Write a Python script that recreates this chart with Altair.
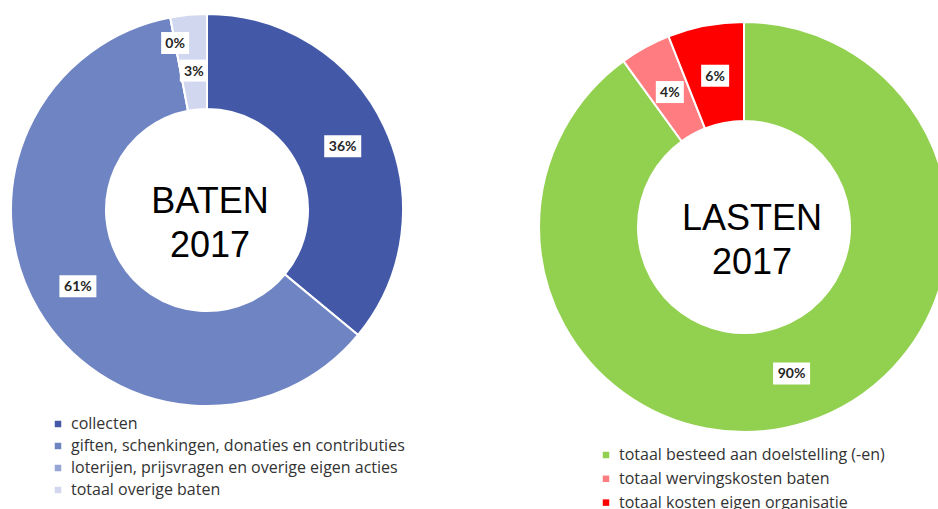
import altair as alt
import pandas as pd

# ---------------- data ----------------
baten_cats = [
    "collecten",
    "giften, schenkingen, donaties en contributies",
    "loterijen, prijsvragen en overige eigen acties",
    "totaal overige baten",
]
baten_vals = [36, 61, 0, 3]
baten_labels = ["36%", "61%", "0%", "3%"]
baten_colors = ["#4359A8", "#6F84C2", "#97A5D4", "#D0D7EE"]
baten_center = ["BATEN", "2017"]

lasten_cats = [
    "totaal besteed aan doelstelling (-en)",
    "totaal wervingskosten baten",
    "totaal kosten eigen organisatie",
]
lasten_vals = [90, 4, 6]
lasten_labels = ["90%", "4%", "6%"]
lasten_colors = ["#92D050", "#FF7C80", "#FF0000"]
lasten_center = ["LASTEN", "2017"]

W, H = 938, 509
FONT = "Lato"
LEGEND_FONT = "Open Sans"


def donut(cats, vals, labels, colors, center_text, cx, cy, r_out, r_in,
          legend_x, legend_y, row_pad, label_r_expr, text_x):
    df = pd.DataFrame({"cat": cats, "value": vals, "label": labels,
                       "order": list(range(len(cats)))})
    base = alt.Chart(df)
    arcs = base.mark_arc(radius=r_out, radius2=r_in, x=cx, y=cy,
                         stroke="white", strokeWidth=2).encode(
        theta=alt.Theta("value:Q", stack=True),
        order=alt.Order("order:Q"),
        color=alt.Color(
            "cat:N",
            scale=alt.Scale(domain=cats, range=colors),
            legend=alt.Legend(
                title=None, orient="none", legendX=legend_x, legendY=legend_y,
                labelFont=LEGEND_FONT, labelFontSize=16, labelColor="#333333",
                symbolType="square", symbolSize=42, symbolStrokeWidth=0,
                rowPadding=row_pad, labelLimit=600, labelOffset=5,
            ),
        ),
        tooltip=["cat:N", "label:N"],
    )
    pos = base.transform_joinaggregate(total="sum(value)").transform_window(
        cum="sum(value)", sort=[alt.SortField("order")], frame=[None, 0]
    ).transform_calculate(
        mid="(datum.cum - datum.value / 2) / datum.total * 2 * PI",
        lr=label_r_expr,
    ).transform_calculate(
        px=f"{cx} + datum.lr * sin(datum.mid)",
        py=f"{cy} - datum.lr * cos(datum.mid)",
        w="9 * length(datum.label) + 10",
    ).transform_calculate(
        bx1="datum.px - datum.w / 2",
        bx2="datum.px + datum.w / 2",
        by1="datum.py - 11",
        by2="datum.py + 11",
    )
    boxes = pos.mark_rect(color="white").encode(
        x=alt.X("bx1:Q", scale=None, axis=None),
        x2="bx2:Q",
        y=alt.Y("by1:Q", scale=None, axis=None),
        y2="by2:Q",
    )
    texts = pos.mark_text(font=FONT, fontSize=14, fontWeight="bold",
                          color="#262626", baseline="middle",
                          align="center", dy=1).encode(
        x=alt.X("px:Q", scale=None, axis=None),
        y=alt.Y("py:Q", scale=None, axis=None),
        text="label:N",
    )
    center = alt.Chart(pd.DataFrame({"t": [0]})).mark_text(
        text=center_text, font="Liberation Sans", fontSize=36,
        baseline="alphabetic", align="center", lineHeight=44, color="black",
    ).encode(x=alt.value(text_x), y=alt.value(cy + 3))
    return [arcs, boxes, texts, center]


left = donut(baten_cats, baten_vals, baten_labels, baten_colors, baten_center,
             207, 210, 196, 101, 50, 416, 6,
             "datum.value < 1 ? 170 : (datum.value < 5 ? 140 : 150)", 210)
right = donut(lasten_cats, lasten_vals, lasten_labels, lasten_colors, lasten_center,
              744, 227, 205, 106, 598, 447, 7.8, "154", 752)

chart = alt.layer(*left, *right).resolve_scale(
    color="independent", theta="independent"
).properties(
    width=W, height=H, padding=0, autosize=alt.AutoSizeParams(type="none"),
    background="white",
).configure_view(stroke=None)

chart.save("out.html", embed_options={"renderer": "svg", "actions": False})
